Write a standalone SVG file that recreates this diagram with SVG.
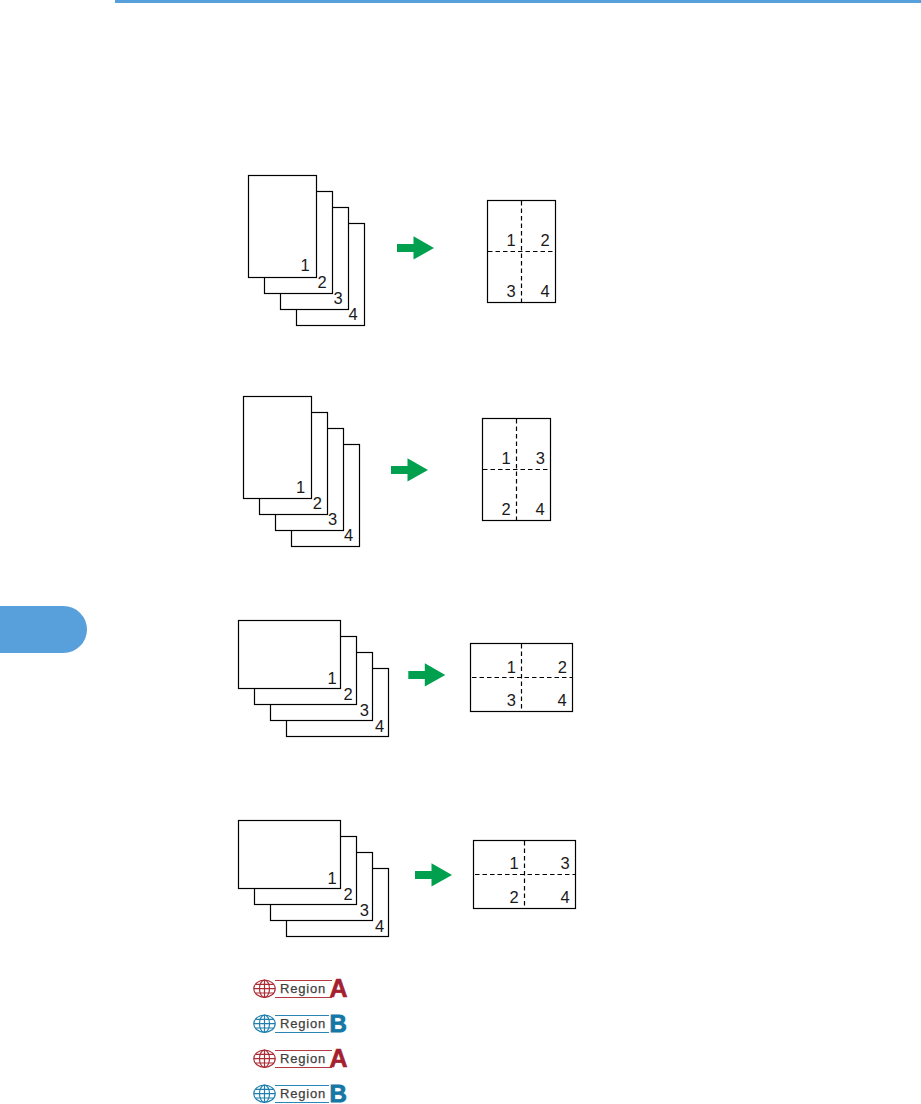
<svg xmlns="http://www.w3.org/2000/svg" width="921" height="1104" viewBox="0 0 921 1104">
<style>
.p{fill:#fff;stroke:#000;stroke-width:1.2}
.d{fill:none;stroke:#000;stroke-width:1.2;stroke-dasharray:4.5 3}
text.n{font-family:"Liberation Sans",Arial,sans-serif;font-size:16.5px;fill:#1a1a1a;text-anchor:middle}
text.r{font-family:"Liberation Sans",Arial,sans-serif;font-size:13px;fill:#3f3f3f;stroke:#3f3f3f;stroke-width:.25;letter-spacing:.8px}
text.a{font-family:"Liberation Sans",Arial,sans-serif;font-size:25px;font-weight:bold;fill:#a5202e;stroke:#a5202e;stroke-width:.6}
text.b{font-family:"Liberation Sans",Arial,sans-serif;font-size:24px;font-weight:bold;fill:#1577a6;stroke:#1577a6;stroke-width:.9}
.gr{fill:none;stroke:#ab2c36;stroke-width:1.2}
.gb{fill:none;stroke:#1f80b0;stroke-width:1.2}
.lr{stroke:#b23a42;stroke-width:1.1}
.lb{stroke:#2a86b4;stroke-width:1.1}
</style>
<defs>
<polygon id="arrow" points="0,-4 16.5,-4 16.5,-11.8 37,0 16.5,11.6 16.5,4 0,4" fill="#00a04f"/>
<g id="globe">
<ellipse cx="0" cy="0" rx="10.7" ry="8.6"/>
<ellipse cx="0" cy="0" rx="5" ry="8.6"/>
<path d="M0-8.600V8.600M-10.700 0H10.700M-9-4.300H9M-9 4.300H9"/>
</g>
</defs>
<rect id="top-bar" x="115" y="0" width="806" height="3" fill="#58a0dc"/>
<path id="side-tab" d="M0 606H63.500A23.500 23.500 0 0 1 63.500 653H0Z" fill="#58a0dc"/>

<g id="connectors">
<use href="#arrow" x="397" y="248"/>
<use href="#arrow" x="391" y="470"/>
<use href="#arrow" x="408.300" y="675"/>
<use href="#arrow" x="415" y="875"/>
</g>

<g id="stack-1">
<rect class="p" x="296.500" y="223.500" width="68" height="102"/>
<rect class="p" x="280.500" y="207.500" width="68" height="102"/>
<rect class="p" x="264.500" y="191.500" width="68" height="102"/>
<rect class="p" x="248.500" y="175.500" width="68" height="102"/>
<text class="n" x="305" y="271">1</text><text class="n" x="322" y="288">2</text><text class="n" x="338" y="304">3</text><text class="n" x="353" y="320">4</text>
</g>
<g id="result-1">
<rect class="p" x="487.500" y="200.500" width="68" height="102"/>
<path class="d" d="M521.500 201V302M488 251.500H555"/>
<text class="n" x="511" y="246">1</text><text class="n" x="545" y="246">2</text><text class="n" x="511" y="297">3</text><text class="n" x="545" y="297">4</text>
</g>

<g id="stack-2">
<rect class="p" x="291.500" y="444.500" width="68" height="102"/>
<rect class="p" x="275.500" y="428.500" width="68" height="102"/>
<rect class="p" x="259.500" y="412.500" width="68" height="102"/>
<rect class="p" x="243.500" y="396.500" width="68" height="102"/>
<text class="n" x="300.700" y="493.300">1</text><text class="n" x="317.300" y="509">2</text><text class="n" x="332.700" y="525">3</text><text class="n" x="348.700" y="541">4</text>
</g>
<g id="result-2">
<rect class="p" x="482.500" y="418.500" width="68" height="102"/>
<path class="d" d="M516.500 419V520M483 469.500H550"/>
<text class="n" x="506" y="464">1</text><text class="n" x="540.300" y="464">3</text><text class="n" x="506" y="515">2</text><text class="n" x="540" y="515">4</text>
</g>

<g id="stack-3">
<rect class="p" x="286.500" y="668.500" width="102" height="68"/>
<rect class="p" x="270.500" y="652.500" width="102" height="68"/>
<rect class="p" x="254.500" y="636.500" width="102" height="68"/>
<rect class="p" x="238.500" y="620.500" width="102" height="68"/>
<text class="n" x="332" y="684.300">1</text><text class="n" x="348" y="700">2</text><text class="n" x="364.300" y="716">3</text><text class="n" x="379.700" y="732.300">4</text>
</g>
<g id="result-3">
<rect class="p" x="470.500" y="643.500" width="102" height="68"/>
<path class="d" d="M521.500 644V711M472 677.500H572"/>
<text class="n" x="511.300" y="672.700">1</text><text class="n" x="562.300" y="672.700">2</text><text class="n" x="511.300" y="706">3</text><text class="n" x="562" y="706">4</text>
</g>

<g id="stack-4">
<rect class="p" x="286.500" y="868.500" width="102" height="68"/>
<rect class="p" x="270.500" y="852.500" width="102" height="68"/>
<rect class="p" x="254.500" y="836.500" width="102" height="68"/>
<rect class="p" x="238.500" y="820.500" width="102" height="68"/>
<text class="n" x="332" y="884.300">1</text><text class="n" x="348" y="900">2</text><text class="n" x="364.300" y="916">3</text><text class="n" x="379.700" y="932.300">4</text>
</g>
<g id="result-4">
<rect class="p" x="473.500" y="840.500" width="102" height="68"/>
<path class="d" d="M524.500 841V908M475 874.500H575"/>
<text class="n" x="514" y="869">1</text><text class="n" x="565" y="869">3</text><text class="n" x="514" y="902.700">2</text><text class="n" x="565" y="902.700">4</text>
</g>

<g id="badge-a1">
<use href="#globe" class="gr" x="264.500" y="988.700"/>
<path class="lr" d="M275 980.500H332M275 997.500H332"/>
<text class="r" x="280" y="992.500">Region</text><text class="a" x="329.500" y="997">A</text>
</g>
<g id="badge-b1">
<use href="#globe" class="gb" x="264.500" y="1023.700"/>
<path class="lb" d="M275 1015.500H329M275 1032.500H329"/>
<text class="r" x="280" y="1027.500">Region</text><text class="b" x="329.500" y="1032">B</text>
</g>
<g id="badge-a2">
<use href="#globe" class="gr" x="264.500" y="1058.700"/>
<path class="lr" d="M275 1050.500H332M275 1067.500H332"/>
<text class="r" x="280" y="1062.500">Region</text><text class="a" x="329.500" y="1067">A</text>
</g>
<g id="badge-b2">
<use href="#globe" class="gb" x="264.500" y="1093.700"/>
<path class="lb" d="M275 1085.500H329M275 1102.500H329"/>
<text class="r" x="280" y="1097.500">Region</text><text class="b" x="329.500" y="1102">B</text>
</g>
</svg>
